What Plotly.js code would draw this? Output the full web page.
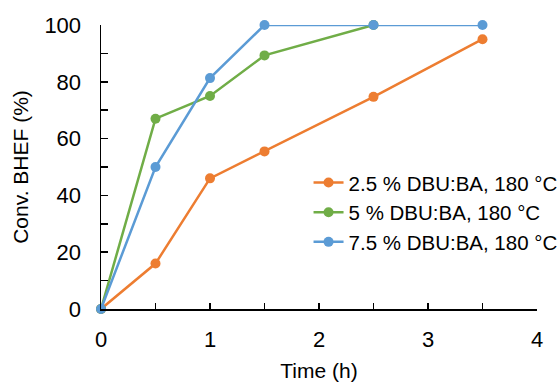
<!DOCTYPE html>
<html>
<head>
<meta charset="utf-8">
<script src="https://cdn.plot.ly/plotly-3.0.1.min.js"></script>
<style>html,body{margin:0;padding:0;background:#fff}#chart{width:558px;height:383px}</style>
</head>
<body>
<div id="chart"></div>
<script>
const seriesNames = ["2.5 % DBU:BA, 180 °C", "5 % DBU:BA, 180 °C", "7.5 % DBU:BA, 180 °C"];
const timeA = [0, 0.5, 1, 1.5, 2.5, 3.5];
const convA = [0, 16, 46, 55.5, 74.7, 95];
const timeB = [0, 0.5, 1, 1.5, 2.5];
const convB = [0, 67, 75, 89.3, 100];
const timeC = [0, 0.5, 1, 1.5, 2.5, 3.5];
const convC = [0, 50, 81.3, 100, 100, 100];
const colors = ["#ED7D31", "#70AD47", "#5B9BD5"];

const xs = [timeA, timeB, timeC];
const ys = [convA, convB, convC];
const traces = xs.map((x, i) => ({
  x: x, y: ys[i], name: seriesNames[i], type: "scatter", mode: "lines+markers",
  line: {color: colors[i], width: 2.5},
  marker: {color: colors[i], size: 10},
  cliponaxis: false
}));

const layout = {
  width: 558, height: 383,
  margin: {l: 101, r: 21, t: 25, b: 74, autoexpand: false},
  paper_bgcolor: "#fff", plot_bgcolor: "#fff",
  font: {family: "Arial, Liberation Sans, sans-serif", color: "#000"},
  showlegend: true,
  legend: {x: 0.476, y: 0.515, xanchor: "left", yanchor: "top", font: {size: 20.5, color: "#000"}, bgcolor: "rgba(0,0,0,0)", tracegroupgap: 0, itemwidth: 30},
  xaxis: {
    range: [0, 4], dtick: 1, tick0: 0, showgrid: false, zeroline: false,
    showline: true, linecolor: "#000", linewidth: 1.5,
    ticks: "inside", ticklen: 6, tickcolor: "#000", tickwidth: 1.5,
    minor: {dtick: 0.5, ticks: "inside", ticklen: 6, tickcolor: "#000", tickwidth: 1.5, showgrid: false},
    tickfont: {size: 22}, ticklabelstandoff: 10,
    title: {text: "Time (h)", font: {size: 21}, standoff: 12}
  },
  yaxis: {
    range: [0, 100], dtick: 20, tick0: 0, showgrid: false, zeroline: false,
    showline: true, linecolor: "#000", linewidth: 1.5,
    ticks: "inside", ticklen: 7, tickcolor: "#000", tickwidth: 1.5,
    minor: {dtick: 10, ticks: "inside", ticklen: 7, tickcolor: "#000", tickwidth: 1.5, showgrid: false},
    tickfont: {size: 22}, ticklabelstandoff: 14,
    title: {text: "Conv. BHEF (%)", font: {size: 21}, standoff: 10}
  }
};
Plotly.newPlot("chart", traces, layout, {displayModeBar: false, staticPlot: true});
</script>
</body>
</html>
